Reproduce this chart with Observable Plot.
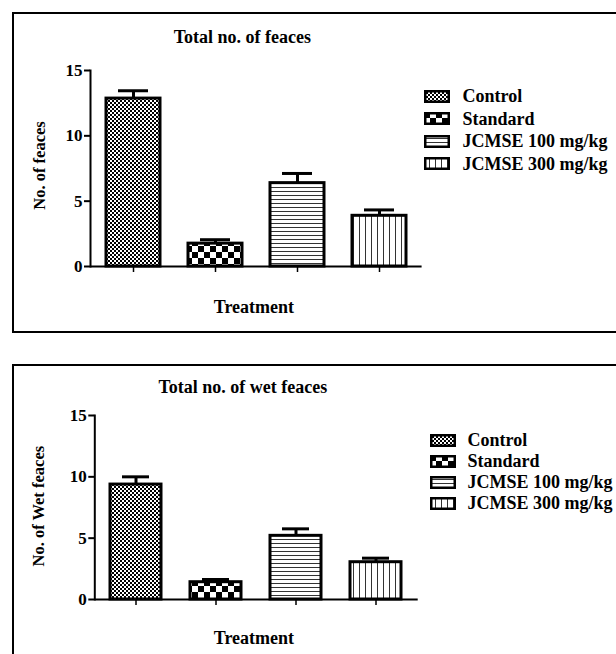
<!DOCTYPE html>
<html><head><meta charset="utf-8">
<script src="https://cdn.jsdelivr.net/npm/d3@7"></script>
<script src="https://cdn.jsdelivr.net/npm/@observablehq/plot@0.6"></script>
<style>
html,body{margin:0;padding:0;background:#fff;}
#root{position:relative;width:616px;height:654px;overflow:hidden;font-family:'Liberation Serif','Times New Roman',serif;font-weight:bold;color:#000;}
.box{position:absolute;border:2.5px solid #000;box-sizing:border-box;pointer-events:none;}
.panel{position:absolute;left:0;}
.row{position:absolute;left:0;height:22px;display:flex;align-items:center;white-space:nowrap;font-size:18px;line-height:22px;}
.row svg{display:block;flex:none;}
</style></head><body>
<svg width="0" height="0" style="position:absolute">
 <defs>
  <pattern id="pControl" patternUnits="userSpaceOnUse" width="4" height="4">
   <rect width="4" height="4" fill="#fff"/>
   <rect x="0" y="0" width="2" height="2" fill="#000"/>
   <rect x="2" y="2" width="2" height="2" fill="#000"/>
  </pattern>
  <pattern id="pStandard" patternUnits="userSpaceOnUse" width="12" height="12">
   <rect width="12" height="12" fill="#fff"/>
   <rect x="0" y="0" width="6" height="6" fill="#000"/>
   <rect x="6" y="6" width="6" height="6" fill="#000"/>
  </pattern>
  <pattern id="pH" patternUnits="userSpaceOnUse" width="8" height="4">
   <rect width="8" height="4" fill="#fff"/>
   <rect x="0" y="3" width="8" height="1" fill="#333"/>
  </pattern>
  <pattern id="pV" patternUnits="userSpaceOnUse" width="6" height="8">
   <rect width="6" height="8" fill="#fff"/>
   <rect x="5" y="0" width="1" height="8" fill="#333"/>
  </pattern>
 </defs>
</svg>
<div id="root"></div>
<script>
// ---- data ----
const groups = ["Control", "Standard", "JCMSE 100 mg/kg", "JCMSE 300 mg/kg"];
const fills = ["url(#pControl)", "url(#pStandard)", "url(#pH)", "url(#pV)"];
const totalMean = [12.85, 1.75, 6.38, 3.88];
const totalSem = [0.60, 0.30, 0.74, 0.45];
const wetMean = [9.37, 1.41, 5.19, 3.04];
const wetSem = [0.63, 0.22, 0.57, 0.33];
const yTicks = [0, 5, 10, 15];
const titles = ["Total no. of feaces", "Total no. of wet feaces"];
const yLabels = ["No. of feaces", "No. of Wet feaces"];
const xLabel = "Treatment";

const root = document.getElementById("root");
const FONT = "'Liberation Serif', 'Times New Roman', serif";

function panel(cfg) {
  const data = groups.map((g, i) => ({group: g, mean: cfg.mean[i], sem: cfg.sem[i], fill: fills[i]}));
  const chart = Plot.plot({
    width: 616, height: cfg.height,
    marginTop: cfg.mt, marginBottom: cfg.mb, marginLeft: cfg.ml, marginRight: cfg.mr,
    x: {domain: groups, paddingInner: cfg.pi, paddingOuter: cfg.po, label: null},
    y: {domain: [0, 15], label: null},
    color: {type: "identity"},
    style: {fontFamily: FONT, fontWeight: "bold", fontSize: "17px", color: "#000", background: "transparent", overflow: "visible"},
    marks: [
      Plot.barY(data, {x: "group", y: "mean", fill: "fill", stroke: "#000", strokeWidth: 3}),
      Plot.ruleX(data, {x: "group", y1: "mean", y2: d => d.mean + d.sem, stroke: "#000", strokeWidth: 3}),
      Plot.tickY(data, {x: "group", y: d => d.mean + d.sem, stroke: "#000", strokeWidth: 3, insetLeft: cfg.capInset, insetRight: cfg.capInset}),
      Plot.ruleY([0], {stroke: "#000", strokeWidth: 2}),
      Plot.frame({anchor: "left", stroke: "#000", strokeWidth: 2}),
      Plot.axisY({ticks: yTicks, tickSize: 6, tickPadding: 2, strokeWidth: 2, label: null, fontSize: 17, fontWeight: "bold"}),
      Plot.axisX({tickSize: 6, tickFormat: () => "", label: null, strokeWidth: 1.5}),
      Plot.text([cfg.title], {text: d => d, frameAnchor: "top", dx: cfg.tdx, dy: cfg.tdy, fontSize: 18, fontWeight: "bold", textAnchor: "middle", lineAnchor: "middle"}),
      Plot.text([xLabel], {text: d => d, frameAnchor: "bottom", dx: cfg.xdx, dy: cfg.xdy, fontSize: 18, fontWeight: "bold", textAnchor: "middle", lineAnchor: "middle"}),
      Plot.text([cfg.ylabel], {text: d => d, frameAnchor: "left", rotate: -90, dx: cfg.ydx, dy: cfg.ydy, fontSize: 16.5, fontWeight: "bold", textAnchor: "middle", lineAnchor: "middle"})
    ]
  });
  const wrap = document.createElement("div");
  wrap.className = "panel";
  wrap.style.top = cfg.top + "px";
  wrap.appendChild(chart);
  root.appendChild(wrap);

  // legend
  groups.forEach((g, i) => {
    const row = document.createElement("div");
    row.className = "row";
    row.style.left = cfg.legLeft + "px";
    row.style.top = (cfg.legTop + i * cfg.legStep - 11) + "px";
    row.innerHTML = `<svg width="26" height="13" style="margin-right:${cfg.legGap}px"><rect x="1.25" y="1.25" width="23.5" height="10.5" fill="${fills[i]}" stroke="#000" stroke-width="2.5"/></svg><span>${g}</span>`;
    root.appendChild(row);
  });
}

panel({top: 0, height: 340, mt: 70, mb: 74, ml: 90, mr: 194.4, pi: 0.345, po: 0.18, capInset: 12,
  mean: totalMean, sem: totalSem, title: titles[0], ylabel: yLabels[0],
  tdx: -14, tdy: -33, xdx: -2.4, xdy: 41, ydx: -50.7, ydy: -3,
  legLeft: 423.5, legTop: 96, legStep: 22.5, legGap: 13});

panel({top: 340, height: 314, mt: 75, mb: 55, ml: 94.3, mr: 198.3, pi: 0.357, po: 0.18, capInset: 12,
  mean: wetMean, sem: wetSem, title: titles[1], ylabel: yLabels[1],
  tdx: -13.6, tdy: -28, xdx: -2.6, xdy: 38.7, ydx: -56.3, ydy: -1.3,
  legLeft: 429.5, legTop: 440, legStep: 21.1, legGap: 12});

// frame boxes
[[12, 12, 321], [12, 364, 400]].forEach(([l, t, h]) => {
  const b = document.createElement("div");
  b.className = "box";
  b.style.left = l + "px"; b.style.top = t + "px";
  b.style.width = "700px"; b.style.height = h + "px";
  root.appendChild(b);
});
</script>
</body></html>
